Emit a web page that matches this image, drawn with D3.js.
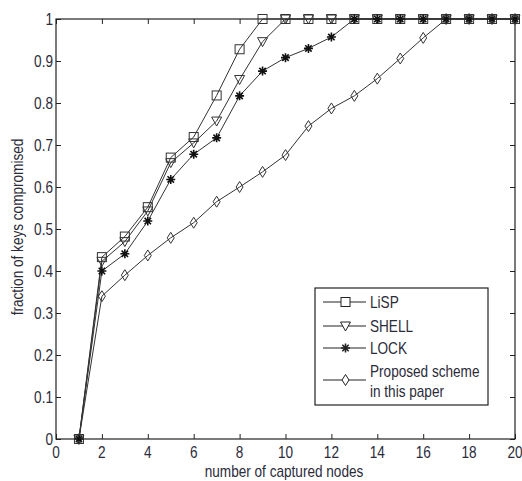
<!DOCTYPE html>
<html><head><meta charset="utf-8">
<script src="https://cdn.jsdelivr.net/npm/d3@7"></script>
<style>body{margin:0;background:#fff}svg{display:block}text{font-family:"Liberation Sans",Arial,sans-serif}</style>
</head><body>
<svg id="c" width="522" height="481"></svg>
<script>
const xs = [1,2,3,4,5,6,7,8,9,10,11,12,13,14,15,16,17,18,19,20];
const lisp = [0,0.433,0.482,0.552,0.670,0.719,0.818,0.928,1,1,1,1,1,1,1,1,1,1,1,1];
const shell = [0,0.423,0.470,0.543,0.658,0.705,0.757,0.856,0.946,1,1,1,1,1,1,1,1,1,1,1];
const lock = [0,0.400,0.441,0.519,0.618,0.678,0.717,0.817,0.876,0.908,0.930,0.957,1,1,1,1,1,1,1,1];
const proposed = [0,0.340,0.390,0.437,0.479,0.515,0.565,0.600,0.636,0.676,0.745,0.787,0.817,0.858,0.906,0.955,1,1,1,1];
const seriesNames = ["LiSP","SHELL","LOCK","Proposed scheme|in this paper"];
const seriesSymbols = ["square","triangle","star","diamond"];
const xTicks = [0,2,4,6,8,10,12,14,16,18,20];
const yTicks = [0,0.1,0.2,0.3,0.4,0.5,0.6,0.7,0.8,0.9,1];

const svg = d3.select("#c");
const L=56,R=515,T=19,B=439;
const x = d3.scaleLinear().domain([0,20]).range([L,R]);
const y = d3.scaleLinear().domain([0,1]).range([B,T]);
const ink="#222", lineCol="#333", txt="#2b2b3a";
const FS=16, SX=0.85;

function label(parent,px,py,str,anchor,rot){
  const g=parent.append("g").attr("transform",`translate(${px},${py})`+(rot?` rotate(${rot})`:""));
  g.append("text").attr("transform",`scale(${SX},1)`).attr("text-anchor",anchor||"start")
    .attr("fill",txt).style("font-size",FS+"px").text(str);
}

svg.append("rect").attr("x",L).attr("y",T).attr("width",R-L).attr("height",B-T).attr("fill","#fff").attr("stroke",ink).attr("stroke-width",1.2);

const fmt = d=>d===0?"0":(d===1?"1":d3.format(".1f")(d));
const ax = svg.append("g").attr("transform",`translate(0,${B})`).call(d3.axisBottom(x).tickValues(xTicks).tickSize(-5).tickFormat(""));
const ay = svg.append("g").attr("transform",`translate(${L},0)`).call(d3.axisLeft(y).tickValues(yTicks).tickSize(-5).tickFormat(""));
const axT = svg.append("g").attr("transform",`translate(0,${T})`).call(d3.axisTop(x).tickValues(xTicks).tickSize(-5).tickFormat(""));
const ayR = svg.append("g").attr("transform",`translate(${R},0)`).call(d3.axisRight(y).tickValues(yTicks).tickSize(-5).tickFormat(""));
[ax,ay,axT,ayR].forEach(g=>{g.select(".domain").remove();g.selectAll("line").attr("stroke",ink);g.selectAll("text").remove();});

xTicks.forEach(d=>label(svg,x(d),458,d3.format("d")(d),"middle"));
yTicks.forEach(d=>label(svg,53,y(d)+5.5,fmt(d),"end"));

label(svg,284,476.5,"number of captured nodes","middle");
label(svg,23,227,"fraction of keys compromised","middle",-90);

const sym = {
 square: (g)=>g.append("rect").attr("x",-4.5).attr("y",-4.5).attr("width",9).attr("height",9),
 triangle: (g)=>g.append("path").attr("d","M-5,-4L5,-4L0,5Z"),
 star: (g)=>g.append("path").attr("d","M-4.5,0L4.5,0M0,-4.5L0,4.5M-3.2,-3.2L3.2,3.2M-3.2,3.2L3.2,-3.2").attr("stroke-width",1.6),
 diamond: (g)=>g.append("path").attr("d","M0,-5.5L3.5,0L0,5.5L-3.5,0Z")
};
const data=[lisp,shell,lock,proposed];
const line=d3.line().x((d,i)=>x(xs[i])).y(d=>y(d));
data.forEach((vals,k)=>{
  svg.append("path").datum(vals).attr("d",line).attr("fill","none").attr("stroke",lineCol).attr("stroke-width",1);
});
data.forEach((vals,k)=>{
  vals.forEach((v,i)=>{
    const g=svg.append("g").attr("transform",`translate(${x(xs[i])},${y(v)})`).attr("fill","none").attr("stroke",k===2?"#111":lineCol).attr("stroke-width",1);
    sym[seriesSymbols[k]](g);
  });
});

// legend
const lg=svg.append("g");
lg.append("rect").attr("x",315).attr("y",288).attr("width",173).attr("height",117).attr("fill","#fff").attr("stroke",ink).attr("stroke-width",1.2);
const rows=[302,326,348,380];
seriesNames.forEach((n,k)=>{
  const yy=rows[k];
  lg.append("line").attr("x1",323).attr("x2",366).attr("y1",yy).attr("y2",yy).attr("stroke",ink);
  const g=lg.append("g").attr("transform",`translate(345.5,${yy})`).attr("fill","#fff").attr("stroke",ink).attr("stroke-width",1);
  sym[seriesSymbols[k]](g);
  const parts=n.split("|");
  if(parts.length===1){
    label(lg,370,yy+6,parts[0]);
  } else {
    label(lg,370,yy-3,parts[0]);
    label(lg,370,yy+16.5,parts[1]);
  }
});
</script>
</body></html>
